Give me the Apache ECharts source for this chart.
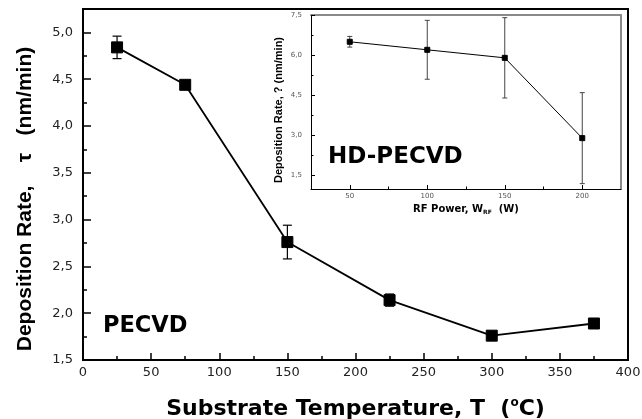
<!DOCTYPE html>
<html>
<head>
<meta charset="utf-8">
<title>Deposition rate</title>
<script src="https://cdn.jsdelivr.net/npm/echarts@6/dist/echarts.min.js"></script>
<style>
  html, body { margin: 0; padding: 0; background: #fff; }
  #chart { width: 642px; height: 419px; }
</style>
</head>
<body>
<div id="chart"></div>
<script>
// main plot: PECVD, rate vs substrate temperature
var tempC = [25, 75, 150, 225, 300, 375]
var ratePecvd = [4.84, 4.44, 2.76, 2.14, 1.76, 1.89]
var errPecvd = [0.12, 0.03, 0.18, 0.065, 0.03, 0.03]
var xMainTicks = [0, 50, 100, 150, 200, 250, 300, 350, 400]
var yMainTicks = [1.5, 2.0, 2.5, 3.0, 3.5, 4.0, 4.5, 5.0]

// inset: HD-PECVD, rate vs RF power
var rfPower = [50, 100, 150, 200]
var rateHd = [6.5, 6.2, 5.9, 2.9]
var errHd = [0.2, 1.1, 1.5, 1.7]
var xInsetTicks = [50, 100, 150, 200]
var yInsetTicks = [1.5, 3.0, 4.5, 6.0, 7.5]

// minor ticks sit half way between the labelled ones
function midpoints(arr) {
  var out = []
  for (var i = 1; i < arr.length; i++) out.push((arr[i - 1] + arr[i]) / 2)
  return out
}
function comma(v) {
  return v.toFixed(1).replace('.', ',')
}

function errorBar(capHalf, width, color) {
  return function (params, api) {
    var top = api.coord([api.value(0), api.value(2)])
    var bot = api.coord([api.value(0), api.value(1)])
    var st = { stroke: color, lineWidth: width }
    return {
      type: 'group',
      children: [
        { type: 'line', shape: { x1: top[0], y1: top[1], x2: bot[0], y2: bot[1] }, style: st },
        { type: 'line', shape: { x1: top[0] - capHalf, y1: top[1], x2: top[0] + capHalf, y2: top[1] }, style: st },
        { type: 'line', shape: { x1: bot[0] - capHalf, y1: bot[1], x2: bot[0] + capHalf, y2: bot[1] }, style: st }
      ]
    }
  }
}

var mainLine = tempC.map(function (t, i) { return [t, ratePecvd[i]] })
var mainErr = tempC.map(function (t, i) { return [t, ratePecvd[i] - errPecvd[i], ratePecvd[i] + errPecvd[i]] })
var insetLine = rfPower.map(function (p, i) { return [p, rateHd[i]] })
var insetErr = rfPower.map(function (p, i) { return [p, rateHd[i] - errHd[i], rateHd[i] + errHd[i]] })

var tickFont = 'DejaVu Sans'
var titleFont = 'DejaVu Sans'

// plain frame line (no ticks, no labels) for the inset's top and right sides
function frameAxis(grid, pos, min, max) {
  return {
    gridIndex: grid, type: 'value', min: min, max: max, position: pos,
    axisLine: { show: true, lineStyle: { color: '#8a8a8a', width: 2 } },
    axisTick: { show: false },
    axisLabel: { show: false },
    splitLine: { show: false }
  }
}

var myChart = echarts.init(document.getElementById('chart'), null, { renderer: 'canvas' })
myChart.setOption({
  animation: false,
  backgroundColor: '#fff',
  grid: [
    {
      left: 83, top: 9, width: 545, height: 351, outerBoundsMode: 'none', containLabel: false,
      show: true, borderColor: '#000', borderWidth: 2, backgroundColor: 'transparent'
    },
    {
      left: 311, top: 15, width: 310, height: 174, outerBoundsMode: 'none', containLabel: false
    }
  ],
  xAxis: [
    {
      gridIndex: 0, type: 'value', min: 0, max: 400,
      name: 'Substrate Temperature, T  ({sup|o}C)',
      nameLocation: 'middle', nameGap: 37,
      nameTextStyle: {
        fontFamily: titleFont, fontWeight: 'bold', fontSize: 22, color: '#000',
        rich: { sup: { fontFamily: titleFont, fontSize: 12, verticalAlign: 'top', padding: [0, 0, 12, 0], color: '#000' } }
      },
      axisLine: { lineStyle: { color: '#000', width: 2 } },
      axisTick: { inside: true, length: 7, customValues: xMainTicks, lineStyle: { color: '#000', width: 1.5 } },
      axisLabel: { customValues: xMainTicks, margin: 6, fontFamily: tickFont, fontSize: 13, color: '#222' },
      splitLine: { show: false }
    },
    {
      // minor ticks only
      gridIndex: 0, type: 'value', min: 0, max: 400, position: 'bottom',
      axisLine: { show: false },
      axisTick: { inside: true, length: 4, customValues: midpoints(xMainTicks), lineStyle: { color: '#000', width: 1.5 } },
      axisLabel: { show: false },
      splitLine: { show: false }
    },
    {
      gridIndex: 1, type: 'value', min: 25, max: 225,
      name: 'RF Power, W{sub|RF}  (W)',
      nameLocation: 'middle', nameGap: 14,
      nameTextStyle: {
        fontFamily: titleFont, fontWeight: 'bold', fontSize: 10, color: '#000',
        rich: { sub: { fontFamily: titleFont, fontWeight: 'bold', fontSize: 6, verticalAlign: 'bottom', padding: [6, 0, 0, 0], color: '#000' } }
      },
      axisLine: { lineStyle: { color: '#000', width: 1 } },
      axisTick: { inside: true, length: 4, customValues: xInsetTicks, lineStyle: { color: '#000' } },
      axisLabel: { customValues: xInsetTicks, margin: 4, fontFamily: tickFont, fontSize: 7, color: '#555' },
      splitLine: { show: false }
    },
    {
      gridIndex: 1, type: 'value', min: 25, max: 225, position: 'bottom',
      axisLine: { show: false },
      axisTick: { inside: true, length: 2.5, customValues: midpoints(xInsetTicks), lineStyle: { color: '#000' } },
      axisLabel: { show: false },
      splitLine: { show: false }
    },
    frameAxis(1, 'top', 25, 225)
  ],
  yAxis: [
    {
      gridIndex: 0, type: 'value', min: 1.5, max: 5.25,
      axisLine: { lineStyle: { color: '#000', width: 2 } },
      axisTick: { inside: true, length: 8, customValues: yMainTicks, lineStyle: { color: '#000', width: 1.5 } },
      axisLabel: { customValues: yMainTicks, margin: 10, fontFamily: tickFont, fontSize: 13, color: '#222', formatter: comma },
      splitLine: { show: false }
    },
    {
      gridIndex: 0, type: 'value', min: 1.5, max: 5.25, position: 'left',
      axisLine: { show: false },
      axisTick: { inside: true, length: 4, customValues: midpoints(yMainTicks), lineStyle: { color: '#000', width: 1.5 } },
      axisLabel: { show: false },
      splitLine: { show: false }
    },
    {
      gridIndex: 1, type: 'value', min: 1.0, max: 7.5,
      axisLine: { lineStyle: { color: '#000', width: 1 } },
      axisTick: { inside: true, length: 4, customValues: yInsetTicks, lineStyle: { color: '#000' } },
      axisLabel: { customValues: yInsetTicks, margin: 9, fontFamily: tickFont, fontSize: 7, color: '#555', formatter: comma },
      splitLine: { show: false }
    },
    {
      gridIndex: 1, type: 'value', min: 1.0, max: 7.5, position: 'left',
      axisLine: { show: false },
      axisTick: { inside: true, length: 2.5, customValues: midpoints(yInsetTicks), lineStyle: { color: '#000' } },
      axisLabel: { show: false },
      splitLine: { show: false }
    },
    frameAxis(1, 'right', 1.0, 7.5)
  ],
  graphic: [
    {
      type: 'text', x: 25, y: 199, rotation: Math.PI / 2,
      style: {
        text: 'Deposition Rate,    τ   (nm/min)',
        fontFamily: 'Liberation Sans', fontWeight: 'bold', fontSize: 21,
        fill: '#000', align: 'center', verticalAlign: 'middle'
      }
    },
    {
      type: 'text', x: 279, y: 110, rotation: Math.PI / 2, z: 10,
      style: {
        text: 'Deposition Rate, ? (nm/min)',
        fontFamily: 'Liberation Sans', fontWeight: 'bold', fontSize: 11,
        fill: '#000', align: 'center', verticalAlign: 'middle'
      }
    },
    {
      type: 'text', x: 103, y: 326,
      style: {
        text: 'PECVD', fontFamily: titleFont, fontWeight: 'bold', fontSize: 22.5,
        fill: '#000', align: 'left', verticalAlign: 'middle'
      }
    },
    {
      type: 'text', x: 328, y: 157, z: 10,
      style: {
        text: 'HD-PECVD', fontFamily: titleFont, fontWeight: 'bold', fontSize: 23,
        fill: '#000', align: 'left', verticalAlign: 'middle'
      }
    }
  ],
  series: [
    {
      name: 'PECVD err', type: 'custom', xAxisIndex: 0, yAxisIndex: 0,
      renderItem: errorBar(4.5, 1.2, '#000'), data: mainErr, z: 2
    },
    {
      name: 'PECVD', type: 'line', xAxisIndex: 0, yAxisIndex: 0,
      data: mainLine, symbol: 'rect', symbolSize: 11, z: 3,
      lineStyle: { color: '#000', width: 1.8 },
      itemStyle: { color: '#000', borderColor: '#000' }
    },
    {
      name: 'HD err', type: 'custom', xAxisIndex: 2, yAxisIndex: 2,
      renderItem: errorBar(2.5, 1, '#444'), data: insetErr, z: 6
    },
    {
      name: 'HD-PECVD', type: 'line', xAxisIndex: 2, yAxisIndex: 2,
      data: insetLine, symbol: 'rect', symbolSize: 5, z: 7,
      lineStyle: { color: '#000', width: 1 },
      itemStyle: { color: '#000', borderColor: '#000' }
    }
  ]
})
</script>
</body>
</html>
